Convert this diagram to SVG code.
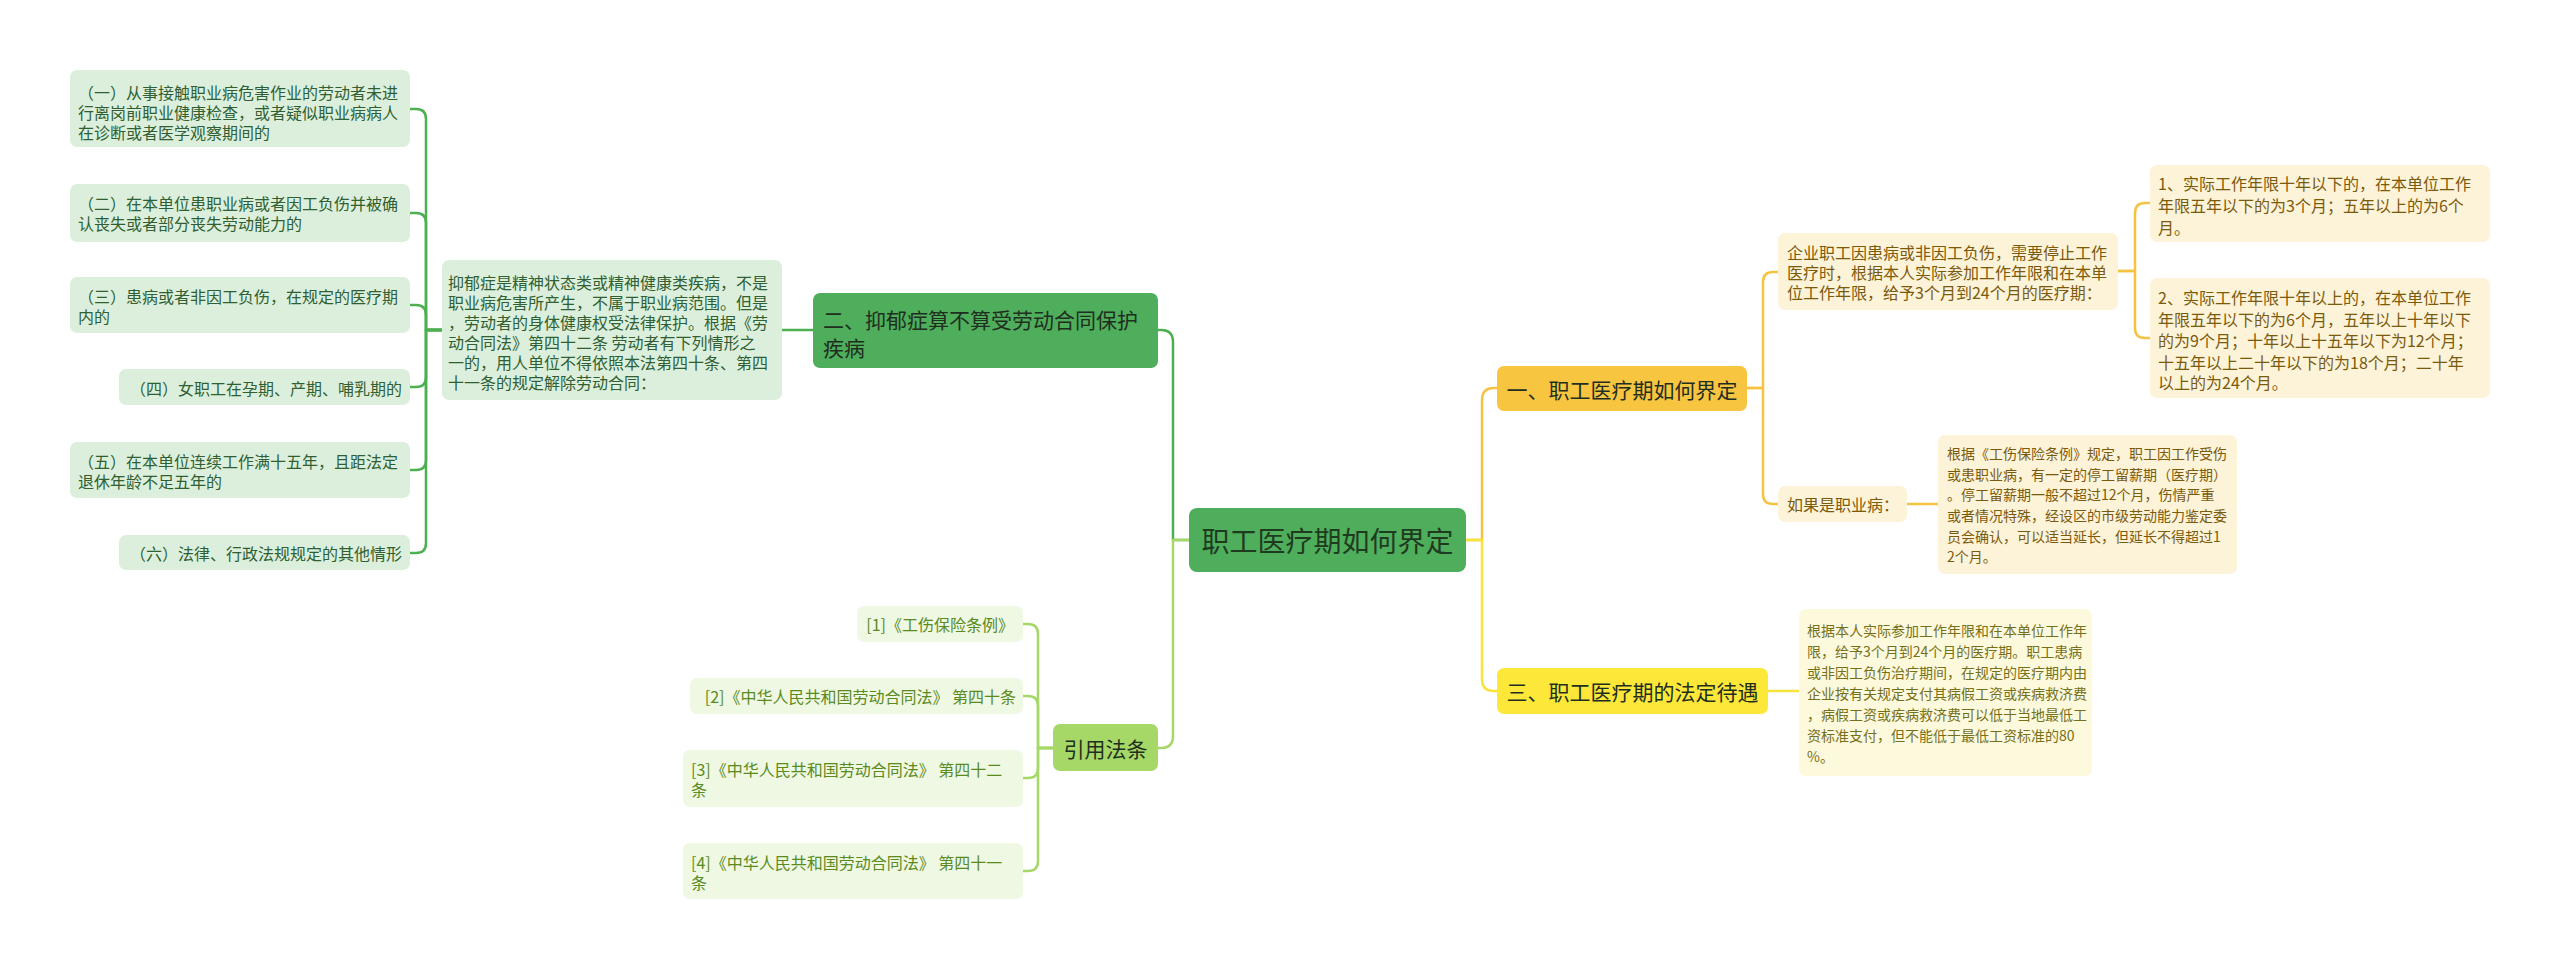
<svg xmlns="http://www.w3.org/2000/svg" width="2560" height="970" viewBox="0 0 2560 970">
<style>
text{font-family:"Noto Sans CJK SC","Noto Sans",sans-serif;dominant-baseline:central}
.c{fill:none;stroke-linecap:round;stroke-linejoin:round}
.dg{stroke:#4caf50;stroke-width:2.5}
.lg{stroke:#a5d867;stroke-width:2.5}
.or{stroke:#f5c342;stroke-width:2.5}
.ye{stroke:#f6e43a;stroke-width:2.5}
.gbox{fill:#dcefdc}
.gt{font-size:16px;fill:#2f5f32}
.cbox{fill:#eef8e2}
.ct{font-size:16px;fill:#5b8a1e}
.obox{fill:#fdf3d8}
.ot{font-size:16px;fill:#7b5a0c}
.ot14{font-size:14px;fill:#7b5a0c}
.ybox{fill:#fdf9dc}
.yt{font-size:14px;fill:#76701a}
.main{font-size:21px;fill:#1f2f1f}
</style>
<g id="connectors">
<path class="c dg" d="M1189,540 H1173 V342 Q1173,330 1161,330 H1158"/>
<path class="c lg" d="M1189,540 H1173 V736 Q1173,748 1161,748 H1158"/>
<path class="c or" d="M1466,540 H1482 V400 Q1482,388 1494,388 H1497"/>
<path class="c ye" d="M1466,540 H1482 V679 Q1482,691 1494,691 H1497"/>
<path class="c or" d="M1747,388 H1763 V282 Q1763,272 1773,272 H1778"/>
<path class="c or" d="M1747,388 H1763 V494 Q1763,504 1773,504 H1778"/>
<path class="c or" d="M1907,504 H1938"/>
<path class="c or" d="M2118,271 H2135 V213 Q2135,203 2145,203 H2150"/>
<path class="c or" d="M2118,271 H2135 V328 Q2135,338 2145,338 H2150"/>
<path class="c ye" d="M1768,691 H1799"/>
<path class="c dg" d="M813,330 H782"/>
<path class="c dg" d="M442,330 H426 V119 Q426,109 416,109 H410"/>
<path class="c dg" d="M442,330 H426 V223 Q426,213 416,213 H410"/>
<path class="c dg" d="M442,330 H426 V315 Q426,305 416,305 H410"/>
<path class="c dg" d="M442,330 H426 V377 Q426,387 416,387 H410"/>
<path class="c dg" d="M442,330 H426 V460 Q426,470 416,470 H410"/>
<path class="c dg" d="M442,330 H426 V543 Q426,553 416,553 H410"/>
<path class="c lg" d="M1053,748 H1038 V634 Q1038,624 1028,624 H1023"/>
<path class="c lg" d="M1053,748 H1038 V706 Q1038,696 1028,696 H1023"/>
<path class="c lg" d="M1053,748 H1038 V768 Q1038,778 1028,778 H1023"/>
<path class="c lg" d="M1053,748 H1038 V861 Q1038,871 1028,871 H1023"/>
</g>
<g id="root">
<rect x="1189" y="508" width="277" height="64" rx="8" fill="#4fae5c"/>
<text x="1327.5" y="540" font-size="28" fill="#1f3b1f" text-anchor="middle">职工医疗期如何界定</text>
</g>
<g id="n1">
<rect x="1497" y="366" width="250" height="45" rx="7" fill="#f8c540"/>
<text class="main" x="1622" y="388.5" text-anchor="middle" fill="#3a2c00">一、职工医疗期如何界定</text>
</g>
<g id="n1a">
<rect class="obox" x="1778" y="233" width="340" height="77" rx="7"/>
<text class="ot" x="1787" y="252">企业职工因患病或非因工负伤，需要停止工作</text>
<text class="ot" x="1787" y="272">医疗时，根据本人实际参加工作年限和在本单</text>
<text class="ot" x="1787" y="292">位工作年限，给予3个月到24个月的医疗期：</text>
</g>
<g id="n1a1">
<rect class="obox" x="2150" y="165" width="340" height="77" rx="7"/>
<text class="ot" x="2158" y="183">1、实际工作年限十年以下的，在本单位工作</text>
<text class="ot" x="2158" y="205">年限五年以下的为3个月；五年以上的为6个</text>
<text class="ot" x="2158" y="227">月。</text>
</g>
<g id="n1a2">
<rect class="obox" x="2150" y="278" width="340" height="120" rx="7"/>
<text class="ot" x="2158" y="297">2、实际工作年限十年以上的，在本单位工作</text>
<text class="ot" x="2158" y="318.5">年限五年以下的为6个月，五年以上十年以下</text>
<text class="ot" x="2158" y="340">的为9个月；十年以上十五年以下为12个月；</text>
<text class="ot" x="2158" y="361.5">十五年以上二十年以下的为18个月；二十年</text>
<text class="ot" x="2158" y="382">以上的为24个月。</text>
</g>
<g id="n1b">
<rect class="obox" x="1778" y="486" width="129" height="36" rx="7"/>
<text class="ot" x="1787" y="504">如果是职业病：</text>
</g>
<g id="n1b1">
<rect class="obox" x="1938" y="435" width="299" height="139" rx="7"/>
<text class="ot14" x="1947" y="453">根据《工伤保险条例》规定，职工因工作受伤</text>
<text class="ot14" x="1947" y="473.5">或患职业病，有一定的停工留薪期（医疗期）</text>
<text class="ot14" x="1947" y="494">。停工留薪期一般不超过12个月，伤情严重</text>
<text class="ot14" x="1947" y="515">或者情况特殊，经设区的市级劳动能力鉴定委</text>
<text class="ot14" x="1947" y="535.5">员会确认，可以适当延长，但延长不得超过1</text>
<text class="ot14" x="1947" y="556">2个月。</text>
</g>
<g id="n3">
<rect x="1497" y="668" width="271" height="46" rx="7" fill="#fde83a"/>
<text class="main" x="1632.5" y="691" text-anchor="middle" fill="#3a3300">三、职工医疗期的法定待遇</text>
</g>
<g id="n3a">
<rect class="ybox" x="1799" y="609" width="293" height="167" rx="7"/>
<text class="yt" x="1807" y="630">根据本人实际参加工作年限和在本单位工作年</text>
<text class="yt" x="1807" y="651">限，给予3个月到24个月的医疗期。职工患病</text>
<text class="yt" x="1807" y="672">或非因工负伤治疗期间，在规定的医疗期内由</text>
<text class="yt" x="1807" y="693">企业按有关规定支付其病假工资或疾病救济费</text>
<text class="yt" x="1807" y="714">，病假工资或疾病救济费可以低于当地最低工</text>
<text class="yt" x="1807" y="735">资标准支付，但不能低于最低工资标准的80</text>
<text class="yt" x="1807" y="756">%。</text>
</g>
<g id="n2">
<rect x="813" y="293" width="345" height="75" rx="7" fill="#4fae5c"/>
<text class="main" x="823" y="319" fill="#1f3b1f">二、抑郁症算不算受劳动合同保护</text>
<text class="main" x="823" y="347" fill="#1f3b1f">疾病</text>
</g>
<g id="n2a">
<rect class="gbox" x="442" y="260" width="340" height="140" rx="7"/>
<text class="gt" x="448" y="282">抑郁症是精神状态类或精神健康类疾病，不是</text>
<text class="gt" x="448" y="302">职业病危害所产生，不属于职业病范围。但是</text>
<text class="gt" x="448" y="322">，劳动者的身体健康权受法律保护。根据《劳</text>
<text class="gt" x="448" y="342">动合同法》第四十二条 劳动者有下列情形之</text>
<text class="gt" x="448" y="362">一的，用人单位不得依照本法第四十条、第四</text>
<text class="gt" x="448" y="382">十一条的规定解除劳动合同：</text>
</g>
<g id="n2a1">
<rect class="gbox" x="70" y="70" width="340" height="77" rx="7"/>
<text class="gt" x="78" y="91.5">（一）从事接触职业病危害作业的劳动者未进</text>
<text class="gt" x="78" y="111.5">行离岗前职业健康检查，或者疑似职业病病人</text>
<text class="gt" x="78" y="131.5">在诊断或者医学观察期间的</text>
</g>
<g id="n2a2">
<rect class="gbox" x="70" y="184" width="340" height="58" rx="7"/>
<text class="gt" x="78" y="203">（二）在本单位患职业病或者因工负伤并被确</text>
<text class="gt" x="78" y="223">认丧失或者部分丧失劳动能力的</text>
</g>
<g id="n2a3">
<rect class="gbox" x="70" y="277" width="340" height="56" rx="7"/>
<text class="gt" x="78" y="296">（三）患病或者非因工负伤，在规定的医疗期</text>
<text class="gt" x="78" y="316">内的</text>
</g>
<g id="n2a4">
<rect class="gbox" x="119" y="369" width="291" height="36" rx="7"/>
<text class="gt" x="402" y="387.5" text-anchor="end">（四）女职工在孕期、产期、哺乳期的</text>
</g>
<g id="n2a5">
<rect class="gbox" x="70" y="442" width="340" height="56" rx="7"/>
<text class="gt" x="78" y="461">（五）在本单位连续工作满十五年，且距法定</text>
<text class="gt" x="78" y="481">退休年龄不足五年的</text>
</g>
<g id="n2a6">
<rect class="gbox" x="119" y="535" width="291" height="35" rx="7"/>
<text class="gt" x="402" y="552.5" text-anchor="end">（六）法律、行政法规规定的其他情形</text>
</g>
<g id="n4">
<rect x="1053" y="724" width="105" height="47" rx="7" fill="#a5d867"/>
<text class="main" x="1105.5" y="747.5" text-anchor="middle" fill="#1f2f10">引用法条</text>
</g>
<g id="n4a">
<rect class="cbox" x="857" y="606" width="166" height="36" rx="7"/>
<text class="ct" x="1014" y="624" text-anchor="end">[1]《工伤保险条例》</text>
</g>
<g id="n4b">
<rect class="cbox" x="690" y="678" width="333" height="36" rx="7"/>
<text class="ct" x="1016" y="696" text-anchor="end">[2]《中华人民共和国劳动合同法》 第四十条</text>
</g>
<g id="n4c">
<rect class="cbox" x="683" y="750" width="340" height="57" rx="7"/>
<text class="ct" x="691" y="769">[3]《中华人民共和国劳动合同法》 第四十二</text>
<text class="ct" x="691" y="789">条</text>
</g>
<g id="n4d">
<rect class="cbox" x="683" y="843" width="340" height="56" rx="7"/>
<text class="ct" x="691" y="862">[4]《中华人民共和国劳动合同法》 第四十一</text>
<text class="ct" x="691" y="882">条</text>
</g>
</svg>
